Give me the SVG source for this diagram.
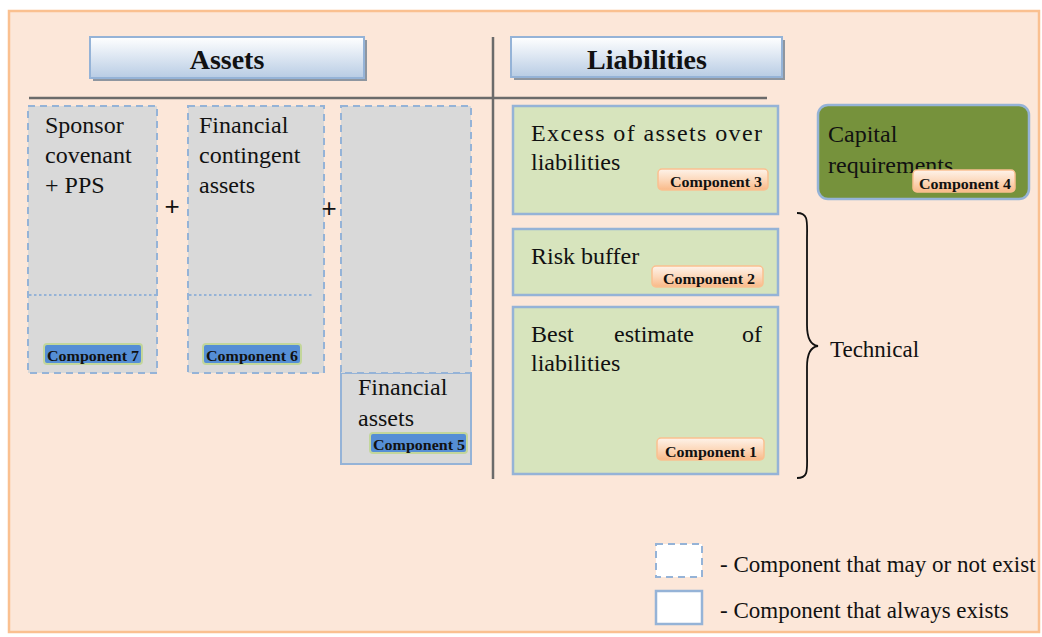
<svg xmlns="http://www.w3.org/2000/svg" width="1042" height="637" viewBox="0 0 1042 637" font-family="'Liberation Serif', 'Times New Roman', serif">
<defs>
<linearGradient id="hdr" x1="0" y1="0" x2="0" y2="1"><stop offset="0" stop-color="#ffffff"/><stop offset="1" stop-color="#b8cce4"/></linearGradient>
<linearGradient id="org" x1="0" y1="0" x2="0" y2="1"><stop offset="0" stop-color="#fef3ea"/><stop offset="0.5" stop-color="#fcd9bc"/><stop offset="1" stop-color="#f9b988"/></linearGradient>
<clipPath id="capclip"><rect x="818" y="105" width="211" height="80"/></clipPath>
</defs>
<style>
text{font-family:"Liberation Serif","Times New Roman",serif;fill:#111}
.body{font-size:24px}
.leg{font-size:23px}
.hd{font-size:28px;font-weight:bold;text-anchor:middle}
.lbl{font-size:15px;font-weight:bold;text-anchor:middle}
.dash{fill:#d9d9d9;stroke:#95b3d7;stroke-width:2;stroke-dasharray:7 5}
.solid{fill:#d9d9d9;stroke:#95b3d7;stroke-width:2}
.green{fill:#d7e4bd;stroke:#95b3d7;stroke-width:2.5}
.blue{fill:#558ed5;stroke:#c3d69b;stroke-width:2}
.orng{fill:url(#org);stroke:#fac090;stroke-width:1.5}
.hbox{fill:url(#hdr);stroke:#95b3d7;stroke-width:2}
.shadow{fill:#8e96a0}
</style>
<rect x="9" y="11" width="1030" height="621" fill="#fce7d9" stroke="#fac090" stroke-width="2.5"/>

<g id="connectors">
<line x1="29" y1="98" x2="767" y2="98" stroke="#6b6b6b" stroke-width="2.5"/>
<line x1="493" y1="37" x2="493" y2="479" stroke="#6b6b6b" stroke-width="2.5"/>
<path d="M797,213 C809,213 807,222 807,240 L807,325 C807,338 810,345 818,346 C810,347 807,354 807,367 L807,452 C807,470 809,478 797,478" fill="none" stroke="#111" stroke-width="1.8"/>
</g>

<g id="assets-header">
<rect x="93" y="40" width="274" height="41" class="shadow"/>
<rect x="90" y="37" width="274" height="41" class="hbox"/>
<text x="227" y="69" class="hd">Assets</text>
</g>
<g id="liabilities-header">
<rect x="514" y="40" width="271" height="40" class="shadow"/>
<rect x="511" y="37" width="271" height="40" class="hbox"/>
<text x="647" y="69" class="hd">Liabilities</text>
</g>

<g id="component7">
<rect x="28" y="106" width="129" height="267" class="dash"/>
<line x1="29" y1="295" x2="156" y2="295" stroke="#95b3d7" stroke-width="2" stroke-dasharray="2.5 2.5"/>
<text class="body"><tspan x="45" y="133">Sponsor</tspan><tspan x="45" y="163">covenant</tspan><tspan x="45" y="193">+ PPS</tspan></text>
<rect x="44" y="344" width="98" height="20" rx="3" class="blue"/>
<text x="93" y="361" class="lbl" textLength="92" lengthAdjust="spacingAndGlyphs">Component 7</text>
</g>

<text x="172" y="215" font-size="26" text-anchor="middle" style="font-family:'Liberation Sans',sans-serif">+</text>

<g id="component6">
<rect x="188" y="106" width="136" height="267" class="dash"/>
<line x1="189" y1="295" x2="312" y2="295" stroke="#95b3d7" stroke-width="2" stroke-dasharray="2.5 2.5"/>
<text class="body"><tspan x="199" y="133">Financial</tspan><tspan x="199" y="163">contingent</tspan><tspan x="199" y="193">assets</tspan></text>
<rect x="203" y="344" width="98" height="20" rx="3" class="blue"/>
<text x="252" y="361" class="lbl" textLength="92" lengthAdjust="spacingAndGlyphs">Component 6</text>
</g>

<text x="329" y="217" font-size="26" text-anchor="middle" style="font-family:'Liberation Sans',sans-serif">+</text>

<g id="component5">
<rect x="341" y="373" width="130" height="91" class="solid"/>
<rect x="341" y="106" width="130" height="267" class="dash"/>
<text class="body"><tspan x="358" y="395">Financial</tspan><tspan x="358" y="426">assets</tspan></text>
<rect x="370" y="433" width="97" height="20" rx="3" class="blue"/>
<text x="419" y="450" class="lbl" textLength="92" lengthAdjust="spacingAndGlyphs">Component 5</text>
</g>

<g id="component3">
<rect x="513" y="106" width="265" height="108" class="green"/>
<text class="body"><tspan x="531" y="141" textLength="231" lengthAdjust="spacing">Excess of assets over</tspan><tspan x="531" y="170">liabilities</tspan></text>
<rect x="658" y="169" width="110" height="21" rx="4" class="orng"/>
<text x="716" y="187" class="lbl" textLength="92" lengthAdjust="spacingAndGlyphs">Component 3</text>
</g>

<g id="component2">
<rect x="513" y="229" width="265" height="66" class="green"/>
<text x="531" y="264" class="body">Risk buffer</text>
<rect x="652" y="266" width="111" height="21" rx="4" class="orng"/>
<text x="709" y="284" class="lbl" textLength="92" lengthAdjust="spacingAndGlyphs">Component 2</text>
</g>

<g id="component1">
<rect x="513" y="307" width="265" height="167" class="green"/>
<text class="body"><tspan x="531" y="342">Best</tspan><tspan x="614" y="342">estimate</tspan><tspan x="762" y="342" text-anchor="end">of</tspan><tspan x="531" y="371">liabilities</tspan></text>
<rect x="657" y="438" width="107" height="22" rx="4" class="orng"/>
<text x="711" y="457" class="lbl" textLength="92" lengthAdjust="spacingAndGlyphs">Component 1</text>
</g>

<g id="component4">
<rect x="818" y="105" width="211" height="94" rx="10" fill="#76923c" stroke="#95b3d7" stroke-width="2.5"/>
<text class="body" clip-path="url(#capclip)"><tspan x="828" y="142">Capital</tspan><tspan x="828" y="173">requirements</tspan></text>
<rect x="913" y="170" width="102" height="22" rx="4" class="orng"/>
<text x="965" y="189" class="lbl" textLength="92" lengthAdjust="spacingAndGlyphs">Component 4</text>
</g>

<g id="technical">
<text x="830" y="357" class="leg">Technical</text>
</g>

<g id="legend">
<rect x="656" y="544" width="46" height="33" fill="#ffffff" stroke="#95b3d7" stroke-width="2" stroke-dasharray="7 5"/>
<text x="720" y="572" class="leg">- Component that may or not exist</text>
<rect x="656" y="591" width="46" height="33" fill="#ffffff" stroke="#95b3d7" stroke-width="2.5"/>
<text x="720" y="618" class="leg">- Component that always exists</text>
</g>
</svg>
